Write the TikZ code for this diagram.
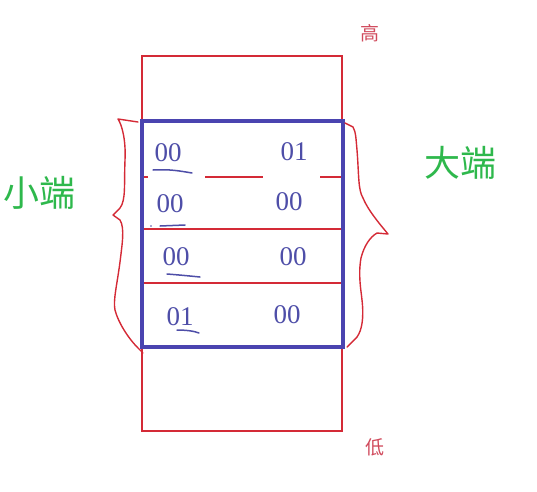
\documentclass[tikz,border=0pt]{standalone}
\usepackage{fontspec}
\setmainfont{Liberation Serif}
\newfontfamily\cjk{Noto Sans CJK SC}
\definecolor{memred}{HTML}{D42A36}
\definecolor{memblue}{HTML}{4A44B0}
\definecolor{numblue}{HTML}{4E4EA8}
\definecolor{endgreen}{HTML}{2EB84C}
\definecolor{labred}{HTML}{D04A5C}
\tikzset{
  redline/.style={draw=memred, line width=2.5pt},
  blueline/.style={draw=memblue, line width=3.8pt},
  brace/.style={draw=memred, line width=1.4pt, line join=round, line cap=round},
  num/.style={text=numblue, font=\fontsize{27}{27}\selectfont, inner sep=0pt},
  uline/.style={draw=numblue, line width=1.5pt, line cap=round},
  endlab/.style={text=endgreen, font=\cjk\fontsize{36}{36}\selectfont, inner sep=0pt},
  hilab/.style={text=labred, font=\cjk\fontsize{19}{19}\selectfont, inner sep=0pt}
}
\begin{document}
\begin{tikzpicture}[x=1pt,y=-1pt]
\useasboundingbox (0,0) rectangle (537,491);
% outer memory column
\draw[redline] (142,56) rectangle (342,431);
% row separators
\draw[redline] (142,229) -- (342,229);
\draw[redline] (142,283) -- (342,283);
\draw[redline] (143,177) -- (148,177);
\draw[redline] (205,177) -- (263,177);
\draw[redline] (320,177) -- (342,177);
% blue frame
\draw[blueline] (142,121) rectangle (343,347);
% left brace
\draw[brace] (138,122) -- (118,119) .. controls (122,125) and (126,140) .. (125,160)
  .. controls (124,185) and (126,200) .. (120,208) -- (113,215) -- (120,220)
  .. controls (125,228) and (122,245) .. (120,262) .. controls (117,285) and (113,300) .. (115,310)
  .. controls (118,322) and (128,338) .. (138,348) -- (143,353);
% right brace
\draw[brace] (345,123) -- (353,127) .. controls (356,132) and (356,140) .. (357,150)
  .. controls (359,175) and (358,190) .. (363,198) .. controls (368,210) and (378,222) .. (388,234)
  -- (377,233) .. controls (370,237) and (364,246) .. (361,258)
  .. controls (358,275) and (361,290) .. (362,300) .. controls (364,318) and (362,330) .. (357,337)
  -- (347,347);
% numbers
\node[num] (a1) at (168,153) {00};
\node[num] (b1) at (294,152) {01};
\node[num] (a2) at (170,204) {00};
\node[num] (b2) at (289,202) {00};
\node[num] (a3) at (176,257) {00};
\node[num] (b3) at (293,257) {00};
\node[num] (a4) at (180,317) {01};
\node[num] (b4) at (287,315) {00};
% underlines
\draw[uline] (153,170) .. controls (170,169) and (180,171) .. (192,173);
\draw[uline] (160,226) -- (185,225);
\fill[numblue] (151,226) circle (0.9);
\draw[uline] (167,274) .. controls (180,275) and (190,276) .. (200,277);
\draw[uline] (177,330) .. controls (186,330) and (194,331) .. (199,333);
% labels
\node[hilab] (hi) at (370,33) {高};
\node[hilab] (lo) at (375,447) {低};
\node[endlab] (le) at (39,193) {小端};
\node[endlab] (be) at (460,163) {大端};
\end{tikzpicture}
\end{document}
